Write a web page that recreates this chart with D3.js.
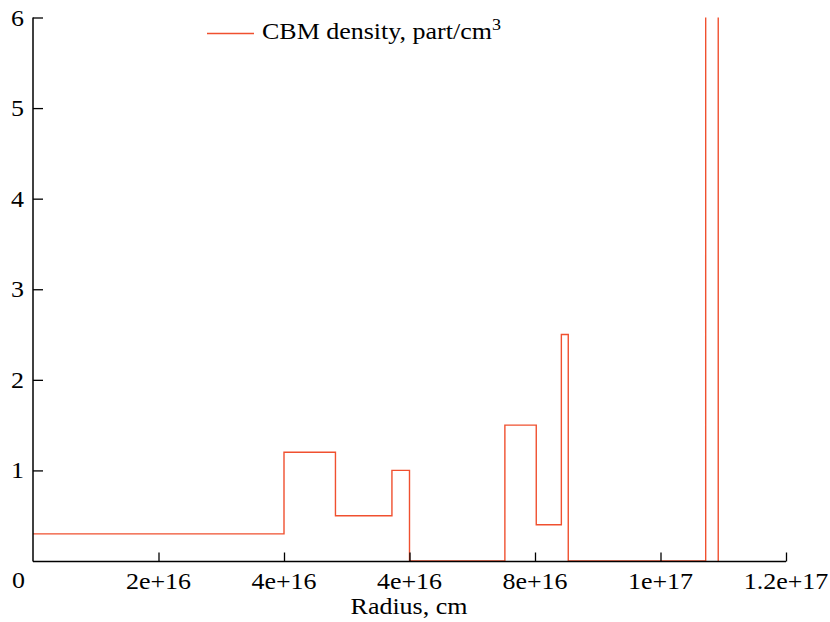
<!DOCTYPE html>
<html>
<head>
<meta charset="utf-8">
<script src="https://cdn.jsdelivr.net/npm/d3@7"></script>
<style>
  html, body { margin: 0; padding: 0; background: #fff; }
  svg { display: block; }
  text { font-family: "Liberation Serif", "Times New Roman", serif; fill: #000; }
</style>
</head>
<body>
<svg id="chart" width="830" height="622"></svg>
<script>
// Step profile of the circumburst medium: each density holds from its radius to the next one
const radiusEdges = [0, 4.0e16, 4.82e16, 5.72e16, 6.0e16, 7.52e16, 8.02e16, 8.42e16, 8.53e16, 1.072e17, 1.092e17];
const density     = [0.3, 1.2, 0.5, 1.0, 0, 1.5, 0.4, 2.5, 0, 30, 0];

const xTickValues = [2e16, 4e16, 6e16, 8e16, 1e17, 1.2e17];
const xTickLabels = ["2e+16", "4e+16", "4e+16", "8e+16", "1e+17", "1.2e+17"];
const yTickValues = [1, 2, 3, 4, 5, 6];
const yTickLabels = ["1", "2", "3", "4", "5", "6"];

const seriesName = "CBM density, part/cm";
const xTitle = "Radius, cm";

const lineColor = "#f0502f";
const fontSize = 23;
const stretch = 1.13;   // serif face set slightly wide

const svg = d3.select("#chart");
const plotL = 33, plotR = 786, plotT = 17.5, plotB = 561.5;

const x = d3.scaleLinear().domain([0, 1.2e17]).range([plotL, plotR]);
const y = d3.scaleLinear().domain([0, 6]).range([plotB - 0.5, plotT]);

const pts = radiusEdges.map((r, i) => [r, density[i]]);

svg.append("clipPath").attr("id", "plotClip")
  .append("rect").attr("x", plotL).attr("y", plotT)
  .attr("width", plotR - plotL).attr("height", plotB - plotT);

const line = d3.line()
  .x(d => x(d[0]))
  .y(d => y(d[1]))
  .curve(d3.curveStepAfter);

svg.append("path")
  .datum(pts)
  .attr("clip-path", "url(#plotClip)")
  .attr("fill", "none")
  .attr("stroke", lineColor)
  .attr("stroke-width", 1.4)
  .attr("d", line);

// helper for horizontally widened text
function label(g, tx, ty, str, anchor, size) {
  return g.append("text")
    .attr("transform", `translate(${tx},${ty}) scale(${stretch},1)`)
    .attr("text-anchor", anchor)
    .style("font-size", (size || fontSize) + "px")
    .text(str);
}

// X axis: inward ticks, custom labels
const xAxis = d3.axisBottom(x)
  .tickValues(xTickValues)
  .tickSizeInner(-9)
  .tickSizeOuter(0)
  .tickFormat("");
const gx = svg.append("g").attr("transform", `translate(0,${plotB})`).call(xAxis);
gx.select(".domain").attr("stroke", "#000").attr("stroke-width", 1.5)
  .attr("d", `M${plotL},0H${plotR}`);
gx.selectAll(".tick line").attr("stroke", "#000").attr("stroke-width", 1.3);

const xl = svg.append("g");
xTickValues.forEach((v, i) => label(xl, x(v), 589, xTickLabels[i], "middle"));
label(xl, 25, 588, "0", "end");

// Y axis
const yAxis = d3.axisLeft(y)
  .tickValues(yTickValues)
  .tickSizeInner(-10)
  .tickSizeOuter(0)
  .tickFormat("");
const gy = svg.append("g").attr("transform", `translate(${plotL},0)`).call(yAxis);
gy.select(".domain").attr("stroke", "#000").attr("stroke-width", 1.5)
  .attr("d", `M0,${plotT}V${plotB}`);
gy.selectAll(".tick line").attr("stroke", "#000").attr("stroke-width", 1.3);

const yl = svg.append("g");
yTickValues.forEach((v, i) => label(yl, 24, y(v) + 8, yTickLabels[i], "end"));

// Axis title
label(svg, 409, 614, xTitle, "middle");

// Legend
const lg = svg.append("g");
lg.append("line")
  .attr("x1", 207).attr("x2", 254).attr("y1", 33.5).attr("y2", 33.5)
  .attr("stroke", lineColor).attr("stroke-width", 1.4);
const lt = label(lg, 262, 38.5, seriesName, "start");
lt.append("tspan").attr("dy", -9).style("font-size", "16px").text("3");
</script>
</body>
</html>
